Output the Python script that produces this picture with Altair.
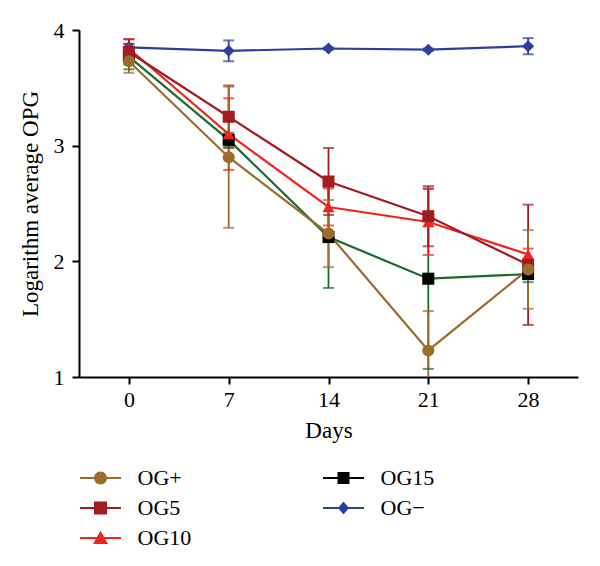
import altair as alt
import pandas as pd

# Sampling days and group names
days = [0, 7, 14, 21, 28]
groups = ["OG+", "OG5", "OG10", "OG15", "OG\u2212"]

# Mean log OPG per group and its error (same order as days)
og_plus = [3.73, 2.90, 2.24, 1.23, 1.93]
og_plus_err = [0.10, 0.61, 0.29, 0.34, 0.34]
og5 = [3.81, 3.25, 2.69, 2.39, 1.97]
og5_err = [0.11, 0.27, 0.29, 0.26, 0.52]
og10 = [3.84, 3.10, 2.47, 2.34, 2.06]
og10_err = [0.08, 0.31, 0.16, 0.285, 0.05]
og15 = [3.77, 3.05, 2.21, 1.85, 1.89]
og15_err = [0.11, 0.06, 0.44, 0.78, 0.07]
og_minus = [3.85, 3.82, 3.84, 3.83, 3.86]
og_minus_err = [0.03, 0.09, 0.01, 0.01, 0.07]

means = {"OG+": og_plus, "OG5": og5, "OG10": og10, "OG15": og15, "OG\u2212": og_minus}
errs = {"OG+": og_plus_err, "OG5": og5_err, "OG10": og10_err, "OG15": og15_err,
        "OG\u2212": og_minus_err}

# Drawing order: last group ends up on top
draw_order = ["OG\u2212", "OG15", "OG10", "OG5", "OG+"]
rows = []
for k, g in enumerate(draw_order):
    for d, m, e in zip(days, means[g], errs[g]):
        rows.append({"day": d, "group": g, "mean": m, "lo": m - e, "hi": m + e, "z": k})
df = pd.DataFrame(rows)

line_colors = {"OG+": "#9c6c2b", "OG5": "#a11d21", "OG10": "#f2241d",
               "OG15": "#1c6a2e", "OG\u2212": "#2f3e9e"}
fill_colors = dict(line_colors, OG15="#000000")
shapes = {"OG+": "circle", "OG5": "square", "OG10": "triangle-up",
          "OG15": "square", "OG\u2212": "diamond"}

# Legend glyphs: a short line with the group's marker in the middle
bar = "M-2.05,-0.1H2.05V0.1H-2.05Z"
legend_paths = {
    "OG+": bar + "M-0.65,0A0.65,0.65,0,1,1,0.65,0A0.65,0.65,0,1,1,-0.65,0Z",
    "OG5": bar + "M-0.65,-0.65H0.65V0.65H-0.65Z",
    "OG10": bar + "M0,-0.72L0.75,0.6H-0.75Z",
    "OG15": bar + "M-0.6,-0.6H0.6V0.6H-0.6Z",
    "OG\u2212": bar + "M0,-0.65L0.55,0L0,0.65L-0.55,0Z",
}
# Legend entries fill column by column: OG+, OG5, OG10 | OG15, OG−
legend_order = groups

FONT = "Liberation Serif"

x = alt.X("day:Q", title="Days",
          scale=alt.Scale(domain=[-3.5, 31.5], nice=False, zero=False),
          axis=alt.Axis(values=days, grid=False, labelFontSize=22, titleFontSize=23,
                        labelFont=FONT, titleFont=FONT, titleFontWeight="normal",
                        domainColor="black", domainWidth=2, tickColor="black",
                        tickWidth=2, tickSize=7, labelPadding=5, titlePadding=9,
                        labelColor="black", titleColor="black"))
y = alt.Y("mean:Q", title="Logarithm average OPG",
          scale=alt.Scale(domain=[1, 4], nice=False, zero=False),
          axis=alt.Axis(values=[1, 2, 3, 4], format="d", grid=False, labelFontSize=22,
                        titleFontSize=23, labelFont=FONT, titleFont=FONT,
                        titleFontWeight="normal", domainColor="black", domainWidth=2,
                        tickColor="black", tickWidth=2, tickSize=7, labelPadding=8,
                        titlePadding=11, labelColor="black", titleColor="black"))

line_color = alt.Color("group:N", legend=None,
                       scale=alt.Scale(domain=groups,
                                       range=[line_colors[g] for g in groups]))

base = alt.Chart(df)

lines = base.mark_line(strokeWidth=2.2).encode(
    x=x, y=y, color=line_color, detail="group:N", order="day:Q")

bars = base.mark_rule(strokeWidth=1.8, clip=True).encode(
    x="day:Q", y="lo:Q", y2="hi:Q", color=line_color)

caps_hi = base.mark_tick(orient="horizontal", size=11, thickness=2, clip=True).encode(
    x="day:Q", y="hi:Q", color=line_color)
caps_lo = base.mark_tick(orient="horizontal", size=11, thickness=2, clip=True).encode(
    x="day:Q", y="lo:Q", color=line_color)

points = base.mark_point(filled=True, opacity=1, size=145).encode(
    x="day:Q", y="mean:Q",
    fill=alt.Fill("group:N", legend=None,
                  scale=alt.Scale(domain=groups, range=[fill_colors[g] for g in groups])),
    shape=alt.Shape("group:N", legend=None,
                    scale=alt.Scale(domain=groups, range=[shapes[g] for g in groups])),
    order="z:Q")

legend_props = dict(orient="none", legendX=10.5, legendY=437, columns=2,
                    columnPadding=131, rowPadding=8, title=None,
                    labelFont=FONT, labelFontSize=22, labelColor="black",
                    labelOffset=26, symbolSize=400, symbolStrokeWidth=0,
                    symbolOpacity=1)

legend_layer = alt.Chart(pd.DataFrame({"group": legend_order,
                                       "day": [0] * 5,
                                       "mean": [og_plus[0]] * 5})).mark_point(
    filled=True, opacity=0, size=400).encode(
    x="day:Q", y="mean:Q",
    fill=alt.Fill("group:N", sort=legend_order, legend=alt.Legend(**legend_props),
                  scale=alt.Scale(domain=legend_order,
                                  range=[fill_colors[g] for g in legend_order])),
    shape=alt.Shape("group:N", sort=legend_order, legend=alt.Legend(**legend_props),
                    scale=alt.Scale(domain=legend_order,
                                    range=[legend_paths[g] for g in legend_order])))

chart = alt.layer(lines, bars, caps_hi, caps_lo, points, legend_layer).resolve_scale(
    fill="independent", shape="independent"
).properties(
    width=499, height=347,
    padding={"left": 79, "top": 30, "right": 22, "bottom": 189},
    autosize=alt.AutoSizeParams(type="none"),
    background="white",
).configure_view(stroke=None)

chart.save("out.html", embed_options={"renderer": "svg", "actions": False})
